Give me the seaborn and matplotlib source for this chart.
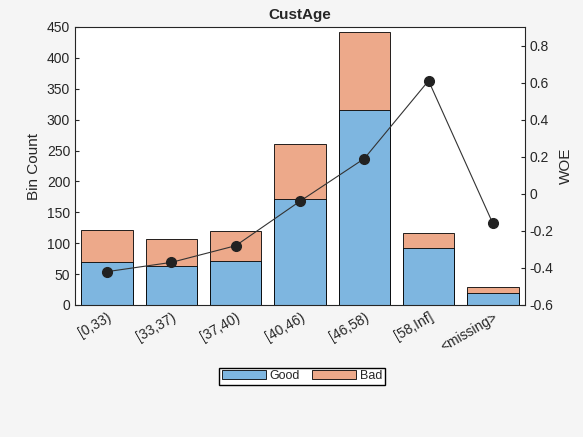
import matplotlib
matplotlib.use("Agg")
import matplotlib.pyplot as plt
import seaborn as sns
import pandas as pd
import numpy as np

bins = ["[0,33)", "[33,37)", "[37,40)", "[40,46)", "[46,58)", "[58,Inf]", "<missing>"]
good = [69, 63, 72, 171, 315, 93, 19]
bad = [52, 44, 47, 89, 127, 24, 10]
woe = [-0.42, -0.37, -0.28, -0.04, 0.19, 0.61, -0.16]

sns.set_style("white")
plt.rcParams['font.family'] = ['Liberation Sans', 'DejaVu Sans']
fig = plt.figure(figsize=(5.83, 4.37), dpi=100, facecolor="#f5f5f5")
ax = fig.add_axes([75/583, 1-305/437, 450/583, 278/437])
df = pd.DataFrame({"bin": bins, "Good": good, "Bad": bad})
df["Total"] = df["Good"] + df["Bad"]
sns.barplot(data=df, x="bin", y="Total", color="#eda98a", edgecolor="black", linewidth=0.6, width=0.8, saturation=1, ax=ax, label="Bad")
sns.barplot(data=df, x="bin", y="Good", color="#7eb6e0", edgecolor="black", linewidth=0.6, width=0.8, saturation=1, ax=ax, label="Good")
ax.set_ylim(0, 450)
ax.set_yticks(range(0, 451, 50))
ax.set_xlim(-0.5, 6.5)
ax.set_xlabel("")
ax.set_ylabel("Bin Count", fontsize=11)
ax.set_xticks(range(7))
ax.set_xticklabels(bins, rotation=30, ha="right", rotation_mode="anchor", fontsize=10)
ax.tick_params(axis="both", labelsize=10, direction="in", length=3, left=True, bottom=True)
ax.set_title("CustAge", fontsize=11, fontweight="bold")
for s in ax.spines.values():
    s.set_linewidth(0.6)
ax.legend().remove()
ax2 = ax.twinx()
ax2.plot(range(7), woe, color="#333333", linewidth=0.8, marker="o", markersize=7, markerfacecolor="#222222", markeredgecolor="#222222")
ax2.set_ylim(-0.6, 0.9)
ax2.set_yticks(np.arange(-0.6, 0.81, 0.2))
ax2.set_yticklabels(["-0.6", "-0.4", "-0.2", "0", "0.2", "0.4", "0.6", "0.8"])
ax2.tick_params(axis="y", labelsize=10, direction="in", length=3)
ax2.set_ylabel("WOE", fontsize=11)
from matplotlib.patches import Patch
h = [Patch(facecolor="#7eb6e0", edgecolor="black", linewidth=0.6, label="Good"),
     Patch(facecolor="#eda98a", edgecolor="black", linewidth=0.6, label="Bad")]
fig.legend(handles=h, loc="center", bbox_to_anchor=(302/583, 1-376/437), ncol=2, fontsize=9,
           fancybox=False, edgecolor="black", handlelength=3.5, handletextpad=0.3, columnspacing=1,
           borderpad=0.2, framealpha=1)
fig.savefig("out.png", dpi=100, facecolor=fig.get_facecolor())
